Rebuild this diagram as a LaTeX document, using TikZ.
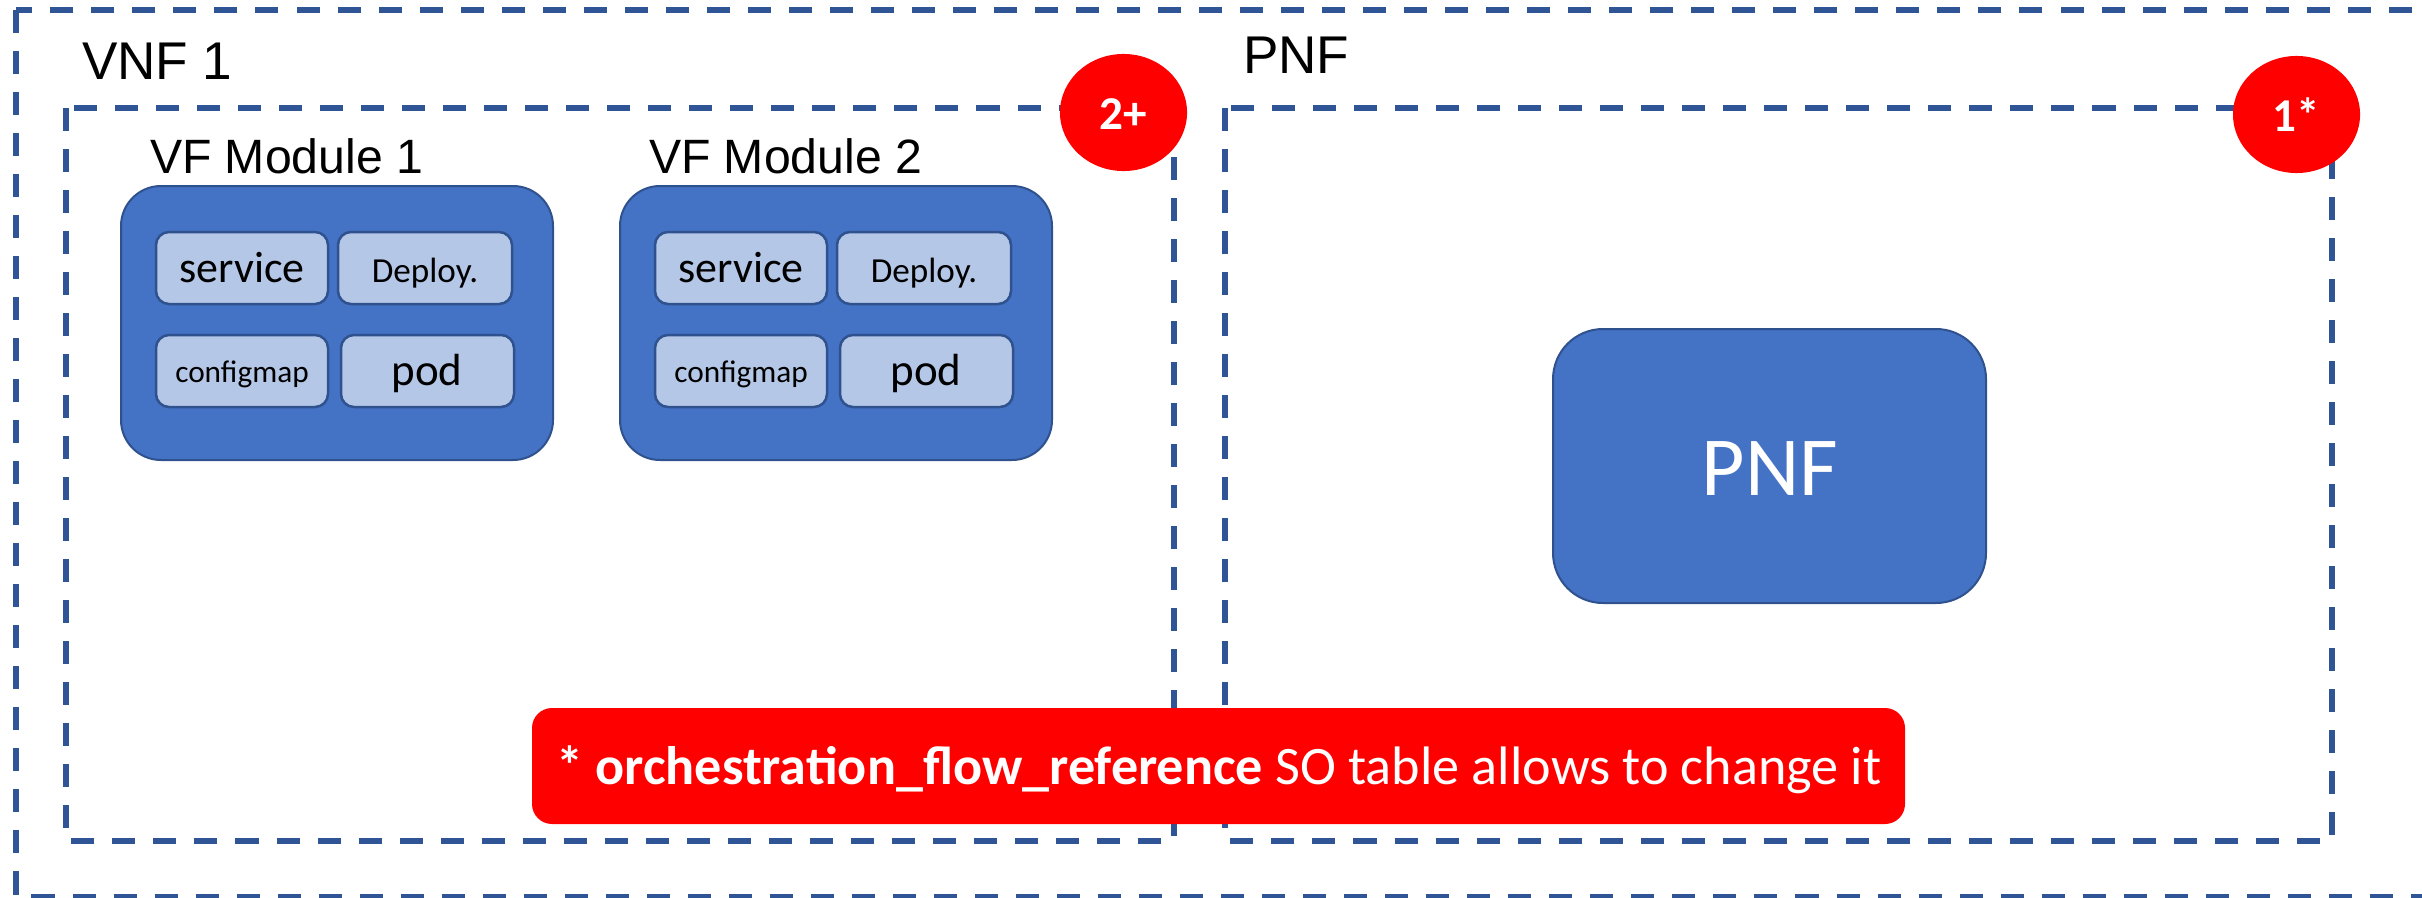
\documentclass[tikz,border=0pt]{standalone}
\usepackage{fontspec}
\setmainfont{Carlito}
\newfontfamily\arialf{Liberation Sans}
\usetikzlibrary{shapes.geometric}
\definecolor{dashblue}{RGB}{47,85,151}
\definecolor{fillblue}{RGB}{68,114,196}
\definecolor{edgeblue}{RGB}{47,82,143}
\definecolor{lightblue}{RGB}{180,199,231}
\definecolor{badred}{RGB}{255,0,0}
\tikzset{
  dashbox/.style={draw=dashblue, line width=0.06cm, dash pattern=on 0.23cm off 0.18cm},
  modbox/.style={draw=edgeblue, fill=fillblue, line width=0.02cm, rounded corners=0.4cm},
  partbox/.style={draw=edgeblue, fill=lightblue, line width=0.025cm, rounded corners=0.13cm},
  lbl/.style={inner sep=0pt, outer sep=0pt},
  biglbl/.style={lbl, font=\arialf\fontsize{15.1}{18}\selectfont, anchor=base west},
  modlbl/.style={lbl, font=\arialf\fontsize{13.7}{16}\selectfont, anchor=base west},
  partlbl/.style={lbl, anchor=base},
  badge/.style={ellipse, fill=badred, minimum width=1.27cm, minimum height=1.17cm, inner sep=0pt},
  badgetxt/.style={lbl, anchor=base, text=white, font=\bfseries\fontsize{13.4}{16}\selectfont},
}
\begin{document}
\begin{tikzpicture}[x=0.01cm, y=-0.01cm]
\useasboundingbox (0,0) rectangle (2422,897);
% outer and group boxes
\draw[dashbox] (16,10) rectangle (2460,897);
\draw[dashbox] (66,108) rectangle (1174,841);
\draw[dashbox] (1225,108) rectangle (2332,841);
% labels
\node[biglbl] (vnf) at (82,79) {VNF 1};
\node[biglbl] (pnflbl) at (1243,73) {PNF};
\node[modlbl] (vf1) at (150,173) {VF Module 1};
\node[modlbl] (vf2) at (649,173) {VF Module 2};
% badges
\node[badge] (b2) at (1123.5,112.5) {};
\node[badgetxt] (b2t) at (1123.5,129) {2+};
\node[badge] (b1) at (2296.5,114.5) {};
\node[badgetxt] (b1t) at (2296.5,131) {1*};
% VF modules
\foreach \dx/\m in {0/a,499/b} {
  \begin{scope}[xshift=\dx*0.01cm]
    \draw[modbox] (121,186) rectangle (553,460);
    \draw[partbox] (156,232) rectangle (328,304);
    \draw[partbox] (338,232) rectangle (512,304);
    \draw[partbox] (156,335) rectangle (328,407);
    \draw[partbox] (341,335) rectangle (514,407);
    \node[partlbl, font=\fontsize{12.5}{15}\selectfont] (svc\m) at (242,282) {service};
    \node[partlbl, font=\fontsize{10}{12}\selectfont] (dep\m) at (425,282) {Deploy.};
    \node[partlbl, font=\fontsize{8.9}{11}\selectfont] (cfg\m) at (242,382) {configmap};
    \node[partlbl, font=\fontsize{12.8}{15}\selectfont] (pod\m) at (427,385) {pod};
  \end{scope}
}
% PNF box
\draw[modbox, rounded corners=0.5cm] (1553,329) rectangle (1986,603);
\node[lbl, anchor=base, text=white, font=\fontsize{23.9}{28}\selectfont] (pnf) at (1770,495) {PNF};
% note
\fill[badred, rounded corners=0.2cm] (532,708) rectangle (1905,824);
\node[lbl, anchor=base, text=white, font=\fontsize{15.4}{18}\selectfont] (note) at (1219,784)
  {\textbf{* orchestration\_flow\_reference} SO table allows to change it};
\end{tikzpicture}
\end{document}
